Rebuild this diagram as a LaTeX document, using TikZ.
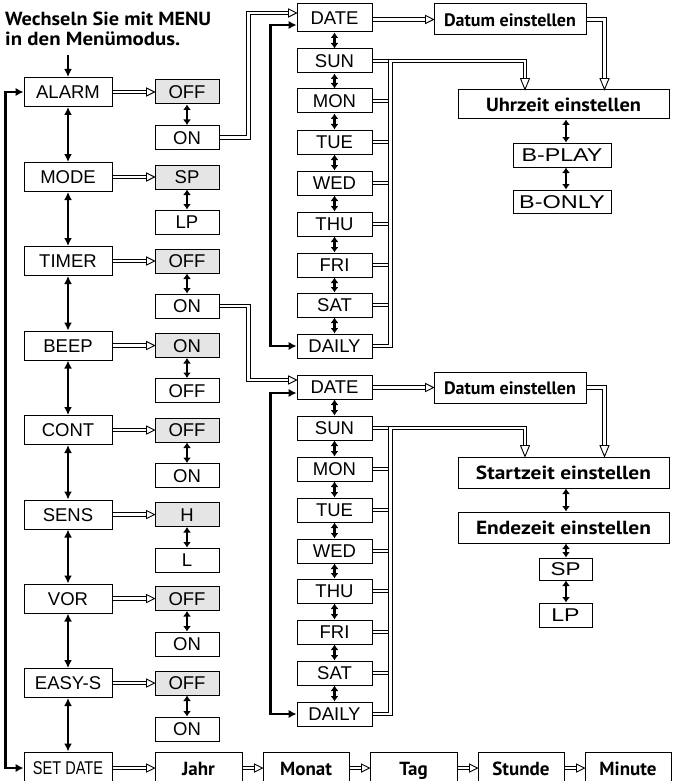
\documentclass[tikz,border=0pt]{standalone}
\usepackage{fontspec}
\setmainfont{Liberation Sans}
\newfontfamily\bfnt{PT Sans}
\usetikzlibrary{arrows.meta,calc}
\newcommand\fw[2]{\resizebox{#1}{\height}{#2}}
\tikzset{
  box/.style={draw,line width=1pt,inner sep=0pt,font=\fontsize{18.5}{20}\selectfont,text height=13.8pt,text depth=0pt},
  lbox/.style={box,minimum width=88pt,minimum height=29pt},
  obox/.style={box,minimum width=64pt,minimum height=24pt},
  gbox/.style={obox,fill=black!10},
  wbox/.style={box,minimum width=75pt,minimum height=24pt},
  bbox/.style={draw,line width=1pt,inner sep=0pt,font=\bfnt\bfseries\fontsize{19}{21}\selectfont,text height=14pt,text depth=0pt},
  ttl/.style={anchor=base west,inner sep=0pt,font=\bfnt\bfseries\fontsize{19}{21}\selectfont},
  dbl/.style={line width=0.9pt,double,double distance=2.6pt},
  bigarr/.style={line width=2.4pt,{Latex[length=8pt,width=8pt]}-{Latex[length=8pt,width=8pt]}},
  smarr/.style={line width=2.3pt,{Latex[length=5.5pt,width=8pt]}-{Latex[length=5.5pt,width=8pt]}},
  looparr/.style={line width=2.8pt,{Latex[length=8pt,width=8.5pt]}-{Latex[length=8pt,width=8.5pt]}},
  rh/.pic={\draw[line width=0.9pt,fill=white] (0,0) -- (-8,-4) -- (-8,4) -- cycle;},
  dh/.pic={\draw[line width=0.9pt,fill=white] (0,0) -- (-4.5,-11) -- (4.5,-11) -- cycle;},
}
\begin{document}
\begin{tikzpicture}[x=1pt,y=-1pt]
\useasboundingbox (0,0) rectangle (672,781);
% title
\node[ttl] (t1) at (5,26) {\fw{206pt}{Wechseln Sie mit MENU}};
\node[ttl] (t2) at (5,46) {\fw{175pt}{in den Menümodus.}};
\coordinate (entry) at (68,55);
% left column
\node[lbox] (alarm) at (68,92) {ALARM};
\node[lbox] (mode) at (68,177) {MODE};
\node[lbox] (timer) at (68,261) {TIMER};
\node[lbox] (beep) at (68,345.5) {BEEP};
\node[lbox] (cont) at (68,430) {CONT};
\node[lbox] (sens) at (68,514.5) {SENS};
\node[lbox] (vor) at (68,598.5) {VOR};
\node[lbox] (easy) at (68,683) {EASY-S};
\node[lbox,minimum height=32pt] (setd) at (68,768) {\fw{70pt}{SET DATE}};
% options
\node[gbox] (a1) at (187,92) {OFF};
\node[obox] (a2) at (187,137.5) {ON};
\node[gbox] (m1) at (187,177) {SP};
\node[obox] (m2) at (187,222) {LP};
\node[gbox] (ti1) at (187,261) {OFF};
\node[obox] (ti2) at (187,306) {ON};
\node[gbox] (b1) at (187,345.5) {ON};
\node[obox] (b2) at (187,390.5) {OFF};
\node[gbox] (c1) at (187,430) {OFF};
\node[obox] (c2) at (187,475.5) {ON};
\node[gbox] (s1) at (187,514.5) {H};
\node[obox] (s2) at (187,560) {L};
\node[gbox] (v1) at (187,598.5) {OFF};
\node[obox] (v2) at (187,644) {ON};
\node[gbox] (e1) at (187,683) {OFF};
\node[obox] (e2) at (187,729) {ON};
% week group A
\node[wbox,minimum height=28pt] (dA) at (334.5,18) {DATE};
\node[wbox] (suA) at (334.5,61) {SUN};
\node[wbox] (moA) at (334.5,101) {MON};
\node[wbox] (tuA) at (334.5,142) {TUE};
\node[wbox] (weA) at (334.5,183) {WED};
\node[wbox] (thA) at (334.5,224) {THU};
\node[wbox] (frA) at (334.5,265) {FRI};
\node[wbox] (saA) at (334.5,305) {SAT};
\node[wbox] (daA) at (334.5,346) {DAILY};
% week group B
\node[wbox] (dB) at (334.5,387) {DATE};
\node[wbox] (suB) at (334.5,428) {SUN};
\node[wbox] (moB) at (334.5,469) {MON};
\node[wbox] (tuB) at (334.5,510) {TUE};
\node[wbox] (weB) at (334.5,551) {WED};
\node[wbox] (thB) at (334.5,591) {THU};
\node[wbox] (frB) at (334.5,632) {FRI};
\node[wbox] (saB) at (334.5,673) {SAT};
\node[wbox] (daB) at (334.5,714) {DAILY};
% right part
\node[bbox,font=\bfnt\bfseries\fontsize{18}{20}\selectfont,minimum width=152pt,minimum height=31pt] (datA) at (510,19.5) {Datum einstellen};
\node[bbox,minimum width=211pt,minimum height=29pt] (uhr) at (563.5,104.5) {\fw{155pt}{Uhrzeit einstellen}};
\node[box,minimum width=98pt,minimum height=24pt] (bplay) at (562,155) {\fw{81pt}{B-PLAY}};
\node[box,minimum width=98pt,minimum height=23pt] (bonly) at (562,201.5) {\fw{85.7pt}{B-ONLY}};
\node[bbox,font=\bfnt\bfseries\fontsize{18}{20}\selectfont,minimum width=152pt,minimum height=31pt] (datB) at (510,387.5) {Datum einstellen};
\node[bbox,minimum width=211pt,minimum height=31pt] (start) at (563.5,472.5) {\fw{175pt}{Startzeit einstellen}};
\node[bbox,minimum width=211pt,minimum height=31pt] (ende) at (563.5,527.5) {\fw{175pt}{Endezeit einstellen}};
\node[box,minimum width=53pt,minimum height=22pt] (sp) at (565.5,569) {\fw{30pt}{SP}};
\node[box,minimum width=53pt,minimum height=24pt] (lp) at (565.5,615) {\fw{28.3pt}{LP}};
% bottom row
\node[bbox,minimum width=87pt,minimum height=32pt] (jahr) at (198.5,768) {Jahr};
\node[bbox,minimum width=86pt,minimum height=32pt] (monat) at (306,768) {Monat};
\node[bbox,minimum width=87pt,minimum height=32pt] (tag) at (413.5,768) {Tag};
\node[bbox,minimum width=86pt,minimum height=32pt] (stunde) at (521,768) {Stunde};
\node[bbox,minimum width=86pt,minimum height=32pt] (minute) at (628,768) {Minute};
% helper coordinates
\coordinate (lx) at (5.5,0);
\coordinate (vx) at (248.5,0);
\coordinate (wl) at (270.5,0);
\coordinate (bus) at (390.3,0);
\coordinate (sx) at (525,0);
\coordinate (dx) at (604.5,0);
\coordinate (ax) at (566,0);
\coordinate (inA) at ([yshift=5pt]dA.west);
\coordinate (lpA) at ([yshift=-7pt]dA.west);
\coordinate (inB) at ([yshift=7pt]dB.west);
\coordinate (lpB) at ([yshift=-6pt]dB.west);
% entry and left column
\draw[line width=2.4pt,-{Latex[length=8pt,width=8pt]}] (entry) -- (alarm.north);
\foreach \p/\q in {alarm/mode,mode/timer,timer/beep,beep/cont,cont/sens,sens/vor,vor/easy,easy/setd}
  \draw[bigarr] (\p.south) -- (\q.north);
\draw[looparr] (alarm.west) -- (alarm.west -| lx) -- (setd.west -| lx) -- (setd.west);
\foreach \p/\q in {alarm/a1,mode/m1,timer/ti1,beep/b1,cont/c1,sens/s1,vor/v1,easy/e1,setd/jahr,jahr/monat,monat/tag,tag/stunde,stunde/minute}{
  \draw[dbl,shorten >=8pt] (\p.east) -- (\q.west);
  \pic at (\q.west) {rh};
}
\foreach \p/\q in {a1/a2,m1/m2,ti1/ti2,b1/b2,c1/c2,s1/s2,v1/v2,e1/e2}
  \draw[smarr] (\p.south) -- (\q.north);
% ON -> DATE
\draw[dbl,shorten >=8pt] (a2.east) -- (a2.east -| vx) -- (vx |- inA) -- (inA);
\pic at (inA) {rh};
\draw[dbl,shorten >=8pt] (ti2.east) -- (ti2.east -| vx) -- (vx |- inB) -- (inB);
\pic at (inB) {rh};
% week arrows
\foreach \p/\q in {dA/suA,suA/moA,moA/tuA,tuA/weA,weA/thA,thA/frA,frA/saA,saA/daA,dB/suB,suB/moB,moB/tuB,tuB/weB,weB/thB,thB/frB,frB/saB,saB/daB}
  \draw[smarr] (\p.south) -- (\q.north);
\draw[looparr,line width=2.5pt] (daA.west) -- (daA.west -| wl) -- (wl |- lpA) -- (lpA);
\draw[looparr,line width=2.5pt] (daB.west) -- (daB.west -| wl) -- (wl |- lpB) -- (lpB);
% buses
\foreach \n in {suA,moA,tuA,weA,thA,frA,saA,suB,moB,tuB,weB,thB,frB,saB}
  \draw[dbl] (\n.east) -- (\n.east -| bus);
\draw[dbl,shorten >=11pt] (daA.east) -- (daA.east -| bus) -- (suA.east -| bus) -- (suA.east -| sx) -- (sx |- uhr.north);
\pic at (sx |- uhr.north) {dh};
\draw[dbl,shorten >=11pt] (daB.east) -- (daB.east -| bus) -- (suB.east -| bus) -- (suB.east -| sx) -- (sx |- start.north);
\pic at (sx |- start.north) {dh};
% DATE -> Datum -> Uhrzeit / Startzeit
\draw[dbl,shorten >=8pt] (dA.east |- datA.west) -- (datA.west);
\pic at (datA.west) {rh};
\draw[dbl,shorten >=8pt] (dB.east |- datB.west) -- (datB.west);
\pic at (datB.west) {rh};
\draw[dbl,shorten >=11pt] (datA.east) -| (dx |- uhr.north);
\pic at (dx |- uhr.north) {dh};
\draw[dbl,shorten >=11pt] (datB.east) -| (dx |- start.north);
\pic at (dx |- start.north) {dh};
% right vertical arrows
\draw[smarr] (uhr.south -| ax) -- (bplay.north -| ax);
\draw[smarr] (bplay.south -| ax) -- (bonly.north -| ax);
\draw[smarr] (start.south -| ax) -- (ende.north -| ax);
\draw[smarr] (ende.south -| ax) -- (sp.north -| ax);
\draw[smarr] (sp.south -| ax) -- (lp.north -| ax);
\end{tikzpicture}
\end{document}
